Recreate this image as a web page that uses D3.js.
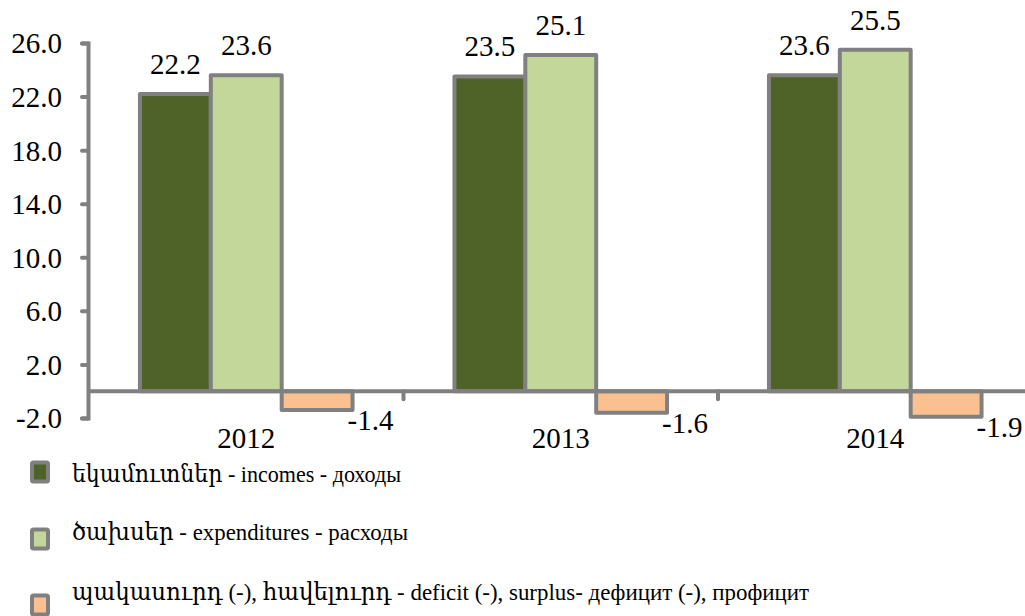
<!DOCTYPE html>
<html>
<head>
<meta charset="utf-8">
<script src="https://cdn.jsdelivr.net/npm/d3@7"></script>
<style>
  html, body { margin: 0; padding: 0; background: #fff; }
  svg { display: block; }
  text { font-family: "Liberation Serif", "DejaVu Serif", serif; fill: #000; }
</style>
</head>
<body>
<svg id="chart" width="1025" height="616"></svg>
<script>
// ---- data ----
const categories = ["2012", "2013", "2014"];
const incomes = [22.2, 23.5, 23.6];
const expenditures = [23.6, 25.1, 25.5];
const balance = [-1.4, -1.6, -1.9];
const seriesNames = [
  "եկամուտներ - incomes - доходы",
  "ծախսեր - expenditures - расходы",
  "պակասուրդ (-), հավելուրդ - deficit (-), surplus- дефицит (-), профицит"
];
const yTicks = [-2, 2, 6, 10, 14, 18, 22, 26];

// ---- styles ----
const colors = ["#4f6228", "#c4d79b", "#fac090"];
const strokeCol = "#808080";
const series = [incomes, expenditures, balance];

const svg = d3.select("#chart");
const W = 1025, H = 616;
const numFont = "29px";

const y = d3.scaleLinear().domain([-2, 26]).range([418, 43]);
const x0 = d3.scaleBand().domain(categories).range([89, 1032.5]).padding(0);
const bw = x0.bandwidth();
const x1 = d3.scaleBand().domain(d3.range(series.length)).range([bw * 0.162, bw * 0.838]).padding(0);

const fmt = v => v.toFixed(1);

// bars
categories.forEach((c, ci) => {
  const g = svg.append("g").attr("transform", `translate(${x0(c)},0)`);
  series.forEach((s, si) => {
    const v = s[ci];
    g.append("rect")
      .attr("x", x1(si))
      .attr("y", Math.min(y(v), y(0)))
      .attr("width", x1.bandwidth())
      .attr("height", Math.abs(y(v) - y(0)))
      .attr("fill", colors[si])
      .attr("stroke", strokeCol)
      .attr("stroke-width", 4)
      .attr("stroke-linejoin", "round");
  });
});

// x axis (zero line) with ticks between categories
const xAxisG = svg.append("g").attr("transform", `translate(0,${y(0)})`);
xAxisG.append("line")
  .attr("x1", 89).attr("x2", W + 10)
  .attr("stroke", strokeCol).attr("stroke-width", 4);
categories.slice(1).forEach(c => {
  xAxisG.append("line")
    .attr("x1", x0(c)).attr("x2", x0(c))
    .attr("y1", 0).attr("y2", 8)
    .attr("stroke", strokeCol).attr("stroke-width", 4).attr("stroke-linecap", "round");
});

// y axis
const yAxis = d3.axisLeft(y).tickValues(yTicks).tickSize(6).tickSizeOuter(6).tickFormat(fmt);
const yg = svg.append("g").attr("transform", "translate(88,0)").call(yAxis);
yg.select(".domain").attr("stroke", strokeCol).attr("stroke-width", 4).attr("stroke-linecap", "round");
yg.selectAll(".tick line").attr("stroke", strokeCol).attr("stroke-width", 4).attr("stroke-linecap", "round");
yg.selectAll(".tick text")
  .attr("x", -26)
  .attr("dy", "0.34em")
  .style("font-size", numFont)
  .style("font-family", "'Liberation Serif', serif")
  .attr("fill", "#000");

// category labels
svg.append("g").selectAll("text").data(categories).join("text")
  .attr("x", d => x0(d) + bw / 2)
  .attr("y", y(0) + 57)
  .attr("text-anchor", "middle")
  .style("font-size", numFont)
  .text(d => d);

// value labels
categories.forEach((c, ci) => {
  series.forEach((s, si) => {
    const v = s[ci];
    const bx = x0(c) + x1(si);
    if (v >= 0) {
      svg.append("text")
        .attr("x", bx + x1.bandwidth() / 2)
        .attr("y", y(v) - 20)
        .attr("text-anchor", "middle")
        .style("font-size", numFont)
        .text(fmt(v));
    } else {
      svg.append("text")
        .attr("x", bx + x1.bandwidth() - 5)
        .attr("y", y(v) + 20)
        .attr("text-anchor", "start")
        .style("font-size", numFont)
        .text(fmt(v));
    }
  });
});

// legend
const legendRowsY = [472, 539, 605];
const legendTextDy = [10, 1, -5];
const legendWidths = [329, 336, 737];
seriesNames.forEach((name, i) => {
  const g = svg.append("g").attr("transform", `translate(0,${legendRowsY[i]})`);
  g.append("rect")
    .attr("x", 32).attr("y", -9.5)
    .attr("width", 16).attr("height", 19)
    .attr("rx", 1.5)
    .attr("fill", colors[i])
    .attr("stroke", strokeCol).attr("stroke-width", 4);
  g.append("text")
    .attr("x", 72)
    .attr("y", legendTextDy[i])
    .style("font-size", "24px")
    .attr("textLength", legendWidths[i])
    .attr("lengthAdjust", "spacingAndGlyphs")
    .text(name);
});
</script>
</body>
</html>
